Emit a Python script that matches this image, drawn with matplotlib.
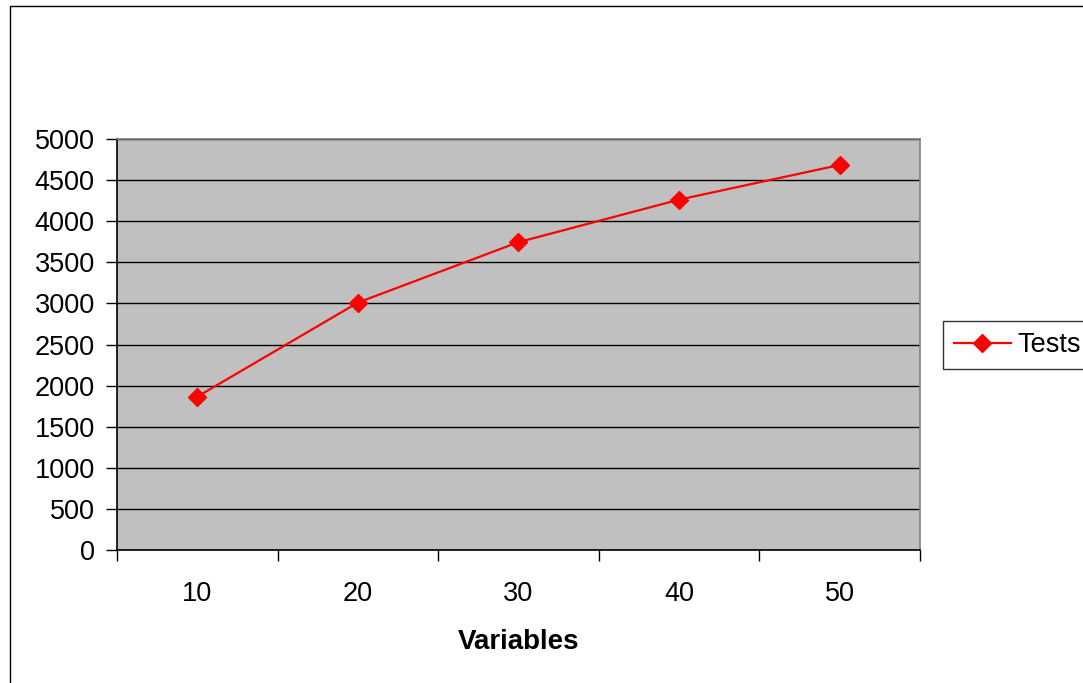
import matplotlib.pyplot as plt
from matplotlib.patches import Rectangle

plt.rcParams['font.family'] = ['Liberation Sans', 'DejaVu Sans']

categories = ["10", "20", "30", "40", "50"]
tests = [1865, 3010, 3745, 4262, 4684]
y_ticks = list(range(0, 5001, 500))

fig = plt.figure(figsize=(10.83, 6.83), dpi=100)
ax = fig.add_axes([0.108, 0.1947, 0.7415, 0.6018])

# chart area border (runs off the right and bottom edges)
fig.patches.append(Rectangle((10 / 1083, -0.1), 1.2, 1.1 - 6 / 683, transform=fig.transFigure,
                             fill=False, edgecolor="black", linewidth=1.0))

ax.set_facecolor("#C0C0C0")
pos = list(range(len(categories)))
line, = ax.plot(pos, tests, color="#FF0000", linewidth=1.6, marker="D", markersize=9,
                markeredgecolor="#FF0000", markerfacecolor="#FF0000", label="Tests", zorder=3)

ax.set_xlim(-0.5, len(categories) - 0.5)
ax.set_ylim(0, 5000)
ax.set_yticks(y_ticks)
ax.yaxis.grid(True, color="black", linewidth=1.0)
ax.set_axisbelow(True)

# category boundaries get tick marks, labels sit at the centres
ax.set_xticks([p - 0.5 for p in pos] + [len(categories) - 0.5])
ax.set_xticklabels([])
ax.set_xticks(pos, minor=True)
ax.set_xticklabels(categories, minor=True)
ax.tick_params(axis="x", which="major", direction="out", length=8, width=1, color="black")
ax.tick_params(axis="x", which="minor", length=0, pad=22, labelsize=19.5)
ax.tick_params(axis="y", direction="out", length=8, width=1, pad=8, labelsize=19.5)

for side in ["top", "right"]:
    ax.spines[side].set_color("#808080")
    ax.spines[side].set_linewidth(1.2)
for side in ["left", "bottom"]:
    ax.spines[side].set_color("black")
    ax.spines[side].set_linewidth(1.2)

ax.set_xlabel("Variables", fontsize=20, fontweight="bold", labelpad=16)

leg = fig.legend(handles=[line], loc="center left", bbox_to_anchor=(943 / 1083, 1 - 345 / 683),
                 frameon=True, fancybox=False, fontsize=19.5, handlelength=2.1,
                 borderaxespad=0, borderpad=0.4, handletextpad=0.25)
leg.get_frame().set_edgecolor("black")
leg.get_frame().set_linewidth(1.0)

plt.savefig("out.png", dpi=100)
